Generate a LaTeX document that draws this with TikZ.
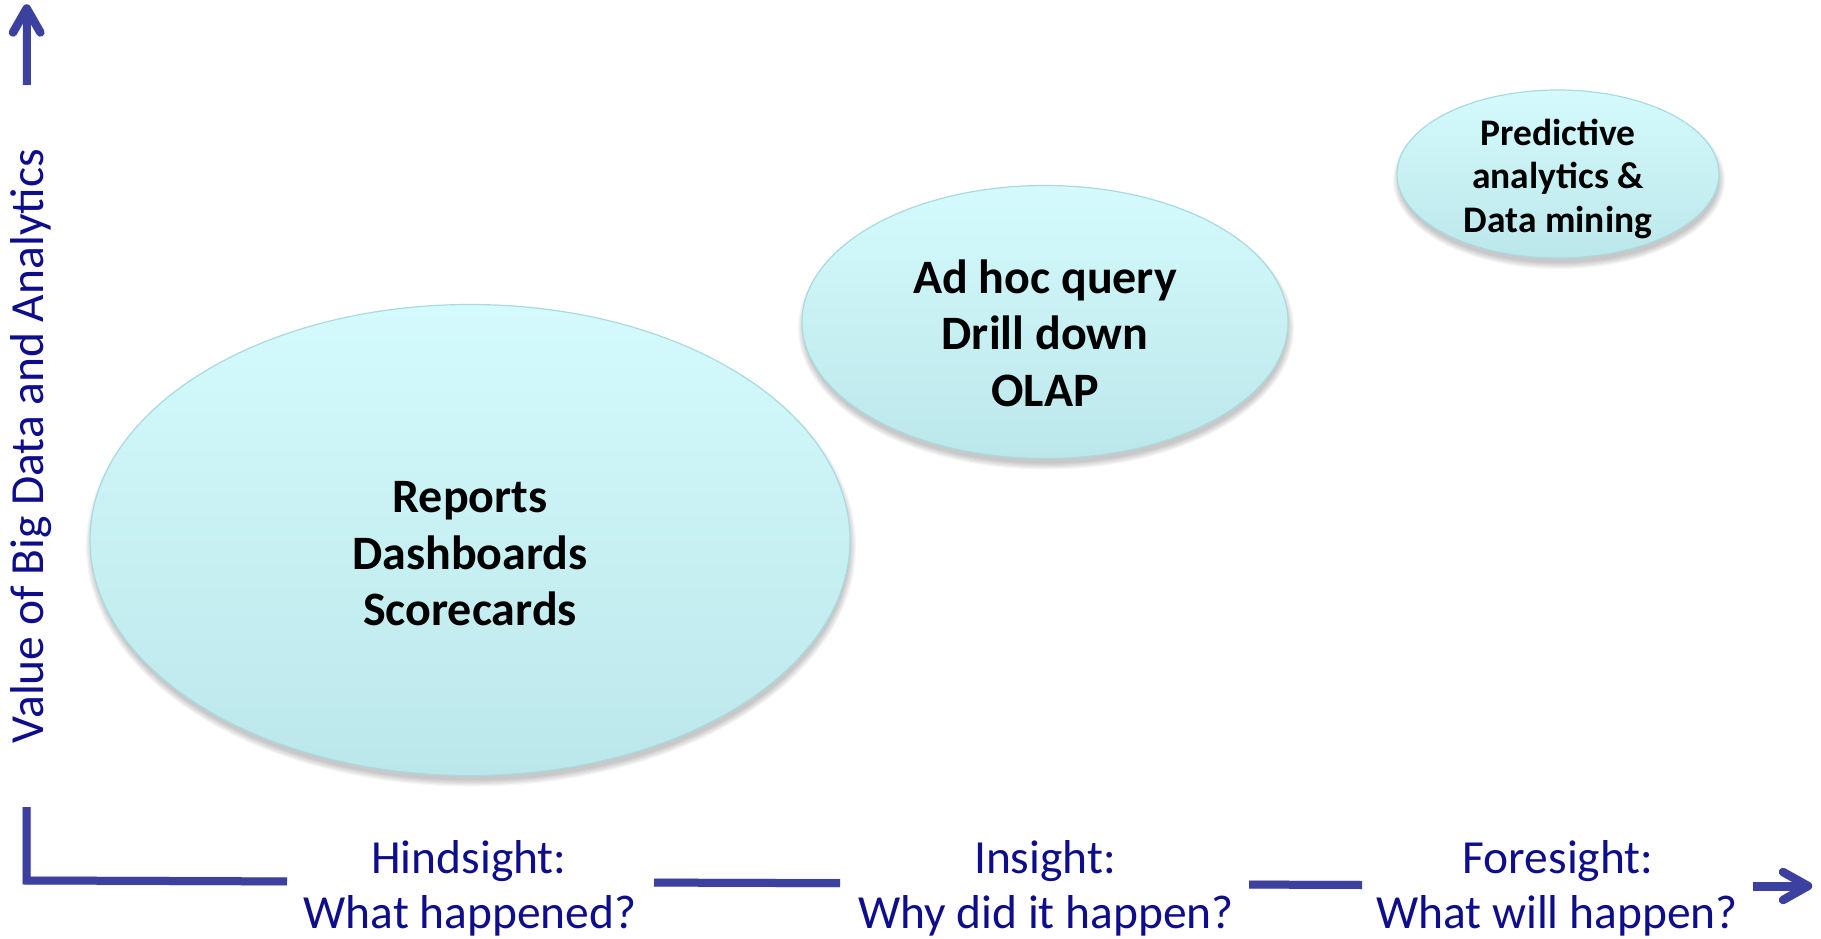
\documentclass[tikz,border=0pt]{standalone}
\usepackage{fontspec}
\setmainfont{Carlito}
\usetikzlibrary{calc,shapes.geometric}
\definecolor{axisblue}{RGB}{60,64,158}
\definecolor{labelblue}{RGB}{14,14,140}
\definecolor{elltop}{RGB}{212,250,253}
\definecolor{ellbot}{RGB}{188,231,234}
\definecolor{ellline}{RGB}{168,218,222}
\newcommand\myellshadow[3]{%
  \foreach \k in {0,...,5}{%
    \fill[black, opacity=0.04] ($(#1)+(1,6)$) ellipse [x radius={#2+5-\k*1.2}, y radius={#3+5-\k*1.2}];
  }%
}
\begin{document}
\begin{tikzpicture}[x=1pt,y=-1pt,
  axisline/.style={draw=axisblue, line width=8pt},
  axisshadow/.style={draw=black, line width=9pt, opacity=0.10},
  chevron/.style={draw=axisblue, line width=8.5pt, line cap=round, line join=round},
  ellbox/.style={ellipse, draw=ellline, line width=1.2pt, top color=elltop, bottom color=ellbot, inner sep=0pt},
  elltext/.style={align=center, font=\bfseries\fontsize{48}{56.5}\selectfont, text=black, inner sep=0pt},
  smalltext/.style={align=center, font=\bfseries\fontsize{37.5}{43.5}\selectfont, text=black, inner sep=0pt},
  axlabel/.style={font=\fontsize{47.5}{55}\selectfont, text=labelblue, anchor=base, inner sep=0pt}
]
\useasboundingbox (0,0) rectangle (1821,939);

% ---- ellipses ----
\coordinate (c1) at (470,540);
\coordinate (c2) at (1045,322);
\coordinate (c3) at (1558,174);
\myellshadow{c1}{380}{235.5}
\myellshadow{c2}{243}{136.5}
\myellshadow{c3}{161}{84}
\node[ellbox, minimum width=760pt, minimum height=471pt] (e1) at (c1) {};
\node[ellbox, minimum width=486pt, minimum height=273pt] (e2) at (c2) {};
\node[ellbox, minimum width=322pt, minimum height=168pt] (e3) at (c3) {};
\node[elltext] (t1) at ([yshift=-14pt]e1.center) {Reports\\Dashboards\\Scorecards};
\node[elltext] (t2) at ([yshift=-11pt]e2.center) {Ad hoc query\\Drill down\\OLAP};
\node[smalltext] (t3) at ([yshift=-4.5pt]e3.center) {Predictive\\analytics \&\\Data mining};

% ---- axes: coordinates ----
\coordinate (ytop) at (26.7,10);
\coordinate (ytopbase) at (26.7,85);
\coordinate (ylow) at (26.7,807);
\coordinate (corner) at (26.7,880.5);
\coordinate (s1e) at (287,881.4);
\coordinate (s2a) at (654,882.6);
\coordinate (s2e) at (840,883.2);
\coordinate (s3a) at (1249,884.6);
\coordinate (s3e) at (1362,885);
\coordinate (s4a) at (1753,886);
\coordinate (s4e) at (1806,886);

% shadows of axis
\begin{scope}[shift={(1.5,4)}]
  \draw[axisshadow] (ytopbase) -- (ytop);
  \draw[axisshadow] (ylow) -- (corner) -- (s1e);
  \draw[axisshadow] (s2a) -- (s2e);
  \draw[axisshadow] (s3a) -- (s3e);
  \draw[axisshadow] (s4a) -- (s4e);
\end{scope}

% axis lines
\draw[axisline] (ytopbase) -- (ytop);
\draw[chevron] (13,32.5) -- (26.7,8.5) -- (40.4,32.5);
\draw[axisline] (ylow) -- (corner) -- (s1e);
\draw[axisline] (s2a) -- (s2e);
\draw[axisline] (s3a) -- (s3e);
\draw[axisline, line width=9pt] (s4a) -- (s4e);
\draw[chevron] (1783,872) -- (1808,886) -- (1783,900);

% ---- axis labels ----
\node[font=\fontsize{47.5}{55}\selectfont, text=labelblue, rotate=90, anchor=base, inner sep=0pt] (ylab) at (43,446) {Value of Big Data and Analytics};
\node[axlabel] (h1) at (469,873) {Hindsight:};
\node[axlabel] (h2) at (470,928) {What happened?};
\node[axlabel] (i1) at (1045,873) {Insight:};
\node[axlabel] (i2) at (1046,928) {Why did it happen?};
\node[axlabel] (f1) at (1558,873) {Foresight:};
\node[axlabel] (f2) at (1557,928) {What will happen?};
\end{tikzpicture}
\end{document}
